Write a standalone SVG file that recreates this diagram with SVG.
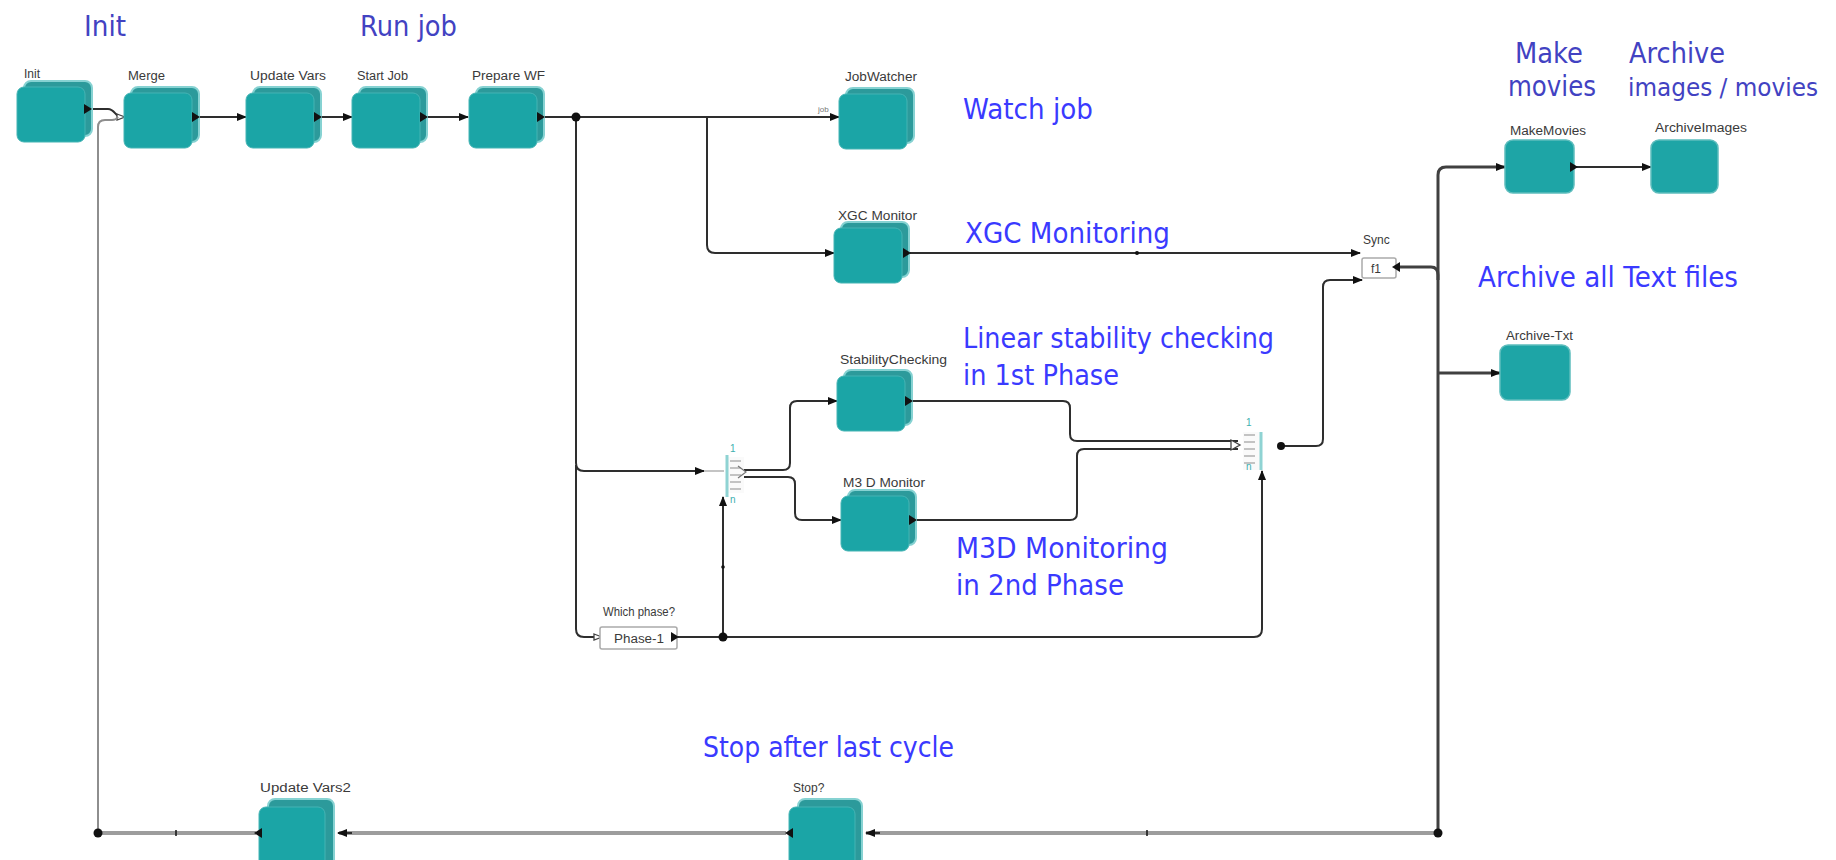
<svg xmlns="http://www.w3.org/2000/svg" width="1836" height="860" viewBox="0 0 1836 860">
<defs>
<style>
  .title{font-family:"DejaVu Sans","Liberation Sans",sans-serif;font-size:28px}
  .dk{fill:#4242c2}
  .br{fill:#3a3aff}
  .lbl{font-family:"Liberation Sans",Arial,sans-serif;font-size:12px;fill:#3a3a3a}
  .tiny{font-family:"Liberation Sans",Arial,sans-serif;font-size:8px;fill:#777}
  .sw{font-family:"Liberation Sans",Arial,sans-serif;font-size:10px;fill:#40b0b0}
  .front{fill:#1ba5a6;stroke:#45b4b4;stroke-width:1}
  .back{fill:#2c9a9b;stroke:#86d2d2;stroke-width:2}
  .flat{fill:#1ea5a6;stroke:#5ebdbd;stroke-width:1.5}
  .wire{fill:none;stroke:#2e2e2e;stroke-width:2;stroke-linejoin:round}
  .thin{fill:none;stroke:#8e8e8e;stroke-width:2}
  .heavy{fill:none;stroke:#9d9d9d;stroke-width:4}
  .dark{fill:none;stroke:#404040;stroke-width:3}
  .port{fill:#111}
  .dash{stroke:#b0b0b0;stroke-width:1.5}
  .tealbar{stroke:#8fd3d3;stroke-width:3}
  .small{fill:#fff;stroke:#aaaaaa;stroke-width:1.5}
</style>
<marker id="ah" viewBox="0 0 10 8" refX="9" refY="4" markerWidth="10" markerHeight="8" markerUnits="userSpaceOnUse" orient="auto">
  <path d="M0,0 L10,4 L0,8 z" fill="#111"/>
</marker>
<marker id="hollow" viewBox="0 0 10 8" refX="9" refY="4" markerWidth="10" markerHeight="8" markerUnits="userSpaceOnUse" orient="auto">
  <path d="M1,1 L9,4 L1,7 z" fill="#fff" stroke="#444" stroke-width="1.3"/>
</marker>
</defs>

<rect x="0" y="0" width="1836" height="860" fill="#ffffff"/>

<!-- annotation titles -->
<g id="titles" class="title">
  <text class="dk" x="84" y="36" textLength="42" lengthAdjust="spacingAndGlyphs">Init</text>
  <text class="dk" x="360" y="36" textLength="97" lengthAdjust="spacingAndGlyphs">Run job</text>
  <text class="br" x="963" y="119" textLength="130" lengthAdjust="spacingAndGlyphs">Watch job</text>
  <text class="br" x="965" y="243" textLength="205" lengthAdjust="spacingAndGlyphs">XGC Monitoring</text>
  <text class="br" x="963" y="348" textLength="311" lengthAdjust="spacingAndGlyphs">Linear stability checking</text>
  <text class="br" x="963" y="385" textLength="156" lengthAdjust="spacingAndGlyphs">in 1st Phase</text>
  <text class="br" x="956" y="558" textLength="212" lengthAdjust="spacingAndGlyphs">M3D Monitoring</text>
  <text class="br" x="956" y="595" textLength="168" lengthAdjust="spacingAndGlyphs">in 2nd Phase</text>
  <text class="dk" x="1515" y="63" textLength="68" lengthAdjust="spacingAndGlyphs">Make</text>
  <text class="dk" x="1508" y="96" textLength="88" lengthAdjust="spacingAndGlyphs">movies</text>
  <text class="dk" x="1629" y="63" textLength="96" lengthAdjust="spacingAndGlyphs">Archive</text>
  <text class="dk" x="1628" y="96" font-size="24" textLength="190" lengthAdjust="spacingAndGlyphs">images / movies</text>
  <text class="br" x="1478" y="287" textLength="260" lengthAdjust="spacingAndGlyphs">Archive all Text files</text>
  <text class="br" x="703" y="757" textLength="251" lengthAdjust="spacingAndGlyphs">Stop after last cycle</text>
</g>

<!-- connectors -->
<g id="connectors">
  <path class="wire" d="M88,109 H108 C115,109 115,117 121,117 H125" marker-end="url(#hollow)"/>
  <path class="thin" d="M98,833 V127 Q98,120 105,120 H112 Q116,120 118,117"/>
  <path class="wire" d="M199,117 H246" marker-end="url(#ah)"/>
  <path class="wire" d="M320,117 H352" marker-end="url(#ah)"/>
  <path class="wire" d="M425,117 H468" marker-end="url(#ah)"/>
  <path class="wire" d="M541,117 H576"/>
  <path class="wire" d="M576,117 H839" marker-end="url(#ah)"/>
  <path class="wire" d="M707,117 V245 Q707,253 715,253 H834" marker-end="url(#ah)"/>
  <path class="wire" d="M909,253 H1360" marker-end="url(#ah)"/>
  <path class="wire" d="M576,117 V463 Q576,471 584,471 H704" marker-end="url(#ah)"/>
  <path d="M704,471 H724" stroke="#c4c4c4" stroke-width="2"/>
  <path class="wire" d="M576,465 V629 Q576,637 584,637 H602" marker-end="url(#hollow)"/>
  <path class="wire" d="M677,637 H1254 Q1262,637 1262,629 V471" marker-end="url(#ah)"/>
  <path class="wire" d="M723,637 V497" marker-end="url(#ah)"/>
  <path class="wire" d="M744,470 H783 Q790,470 790,463 V408 Q790,401 797,401 H837" marker-end="url(#ah)"/>
  <path class="wire" d="M744,477 H788 Q795,477 795,484 V513 Q795,520 802,520 H841" marker-end="url(#ah)"/>
  <path class="wire" d="M911,401 H1063 Q1070,401 1070,408 V434 Q1070,441 1077,441 H1238"/>
  <path class="wire" d="M915,520 H1070 Q1077,520 1077,513 V456 Q1077,449 1084,449 H1238"/>
  <path d="M1231,440 L1240,445 L1231,450 z" fill="#fff" stroke="#444" stroke-width="1.3"/>
  <path class="wire" d="M1281,446 H1316 Q1323,446 1323,439 V287 Q1323,280 1330,280 H1362" marker-end="url(#ah)"/>
  <path class="dark" d="M1398,267 H1431 Q1438,267 1438,275 V833"/>
  <path class="dark" d="M1438,280 V175 Q1438,167 1446,167 H1505" marker-end="url(#ah)"/>
  <path class="dark" d="M1438,373 H1500" marker-end="url(#ah)"/>
  <path class="wire" d="M1576,167 H1651" marker-end="url(#ah)"/>
  <path class="heavy" d="M1438,833 H866"/>
  <path class="wire" d="M880,833 H866" marker-end="url(#ah)"/>
  <path class="heavy" d="M786,833 H339"/>
  <path class="wire" d="M352,833 H338" marker-end="url(#ah)"/>
  <path class="heavy" d="M256,833 H98"/>
  <!-- joints and ticks -->
  <circle cx="576" cy="117" r="4.5" class="port"/>
  <circle cx="723" cy="637" r="4.5" class="port"/>
  <circle cx="98" cy="833" r="4.5" class="port"/>
  <circle cx="1438" cy="833" r="4.5" class="port"/>
  <circle cx="1137" cy="253" r="2" class="port"/>
  <circle cx="723" cy="567" r="1.8" class="port"/>
  <path d="M176,830 V836 M1147,830 V836" stroke="#111" stroke-width="1.5"/>
  <text class="tiny" x="818" y="112">job</text>
</g>

<!-- actor nodes -->
<g id="node-init">
  <rect class="back" x="24" y="81" width="68" height="55" rx="7"/>
  <rect class="front" x="17" y="87" width="68" height="55" rx="7"/>
  <path class="port" d="M84,104 L92,109 L84,114 z"/>
  <text class="lbl" x="24" y="78">Init</text>
</g>
<g id="node-merge">
  <rect class="back" x="131" y="87" width="68" height="55" rx="7"/>
  <rect class="front" x="124" y="93" width="68" height="55" rx="7"/>
  <path class="port" d="M192,112 L200,117 L192,122 z"/>
  <text class="lbl" x="128" y="80" textLength="37" lengthAdjust="spacingAndGlyphs">Merge</text>
</g>
<g id="node-update-vars">
  <rect class="back" x="253" y="87" width="68" height="55" rx="7"/>
  <rect class="front" x="246" y="93" width="68" height="55" rx="7"/>
  <path class="port" d="M314,112 L322,117 L314,122 z"/>
  <text class="lbl" x="250" y="80" textLength="76" lengthAdjust="spacingAndGlyphs">Update Vars</text>
</g>
<g id="node-start-job">
  <rect class="back" x="359" y="87" width="68" height="55" rx="7"/>
  <rect class="front" x="352" y="93" width="68" height="55" rx="7"/>
  <path class="port" d="M420,112 L428,117 L420,122 z"/>
  <text class="lbl" x="357" y="80" textLength="51" lengthAdjust="spacingAndGlyphs">Start Job</text>
</g>
<g id="node-prepare-wf">
  <rect class="back" x="476" y="87" width="68" height="55" rx="7"/>
  <rect class="front" x="469" y="93" width="68" height="55" rx="7"/>
  <path class="port" d="M537,112 L545,117 L537,122 z"/>
  <text class="lbl" x="472" y="80" textLength="73" lengthAdjust="spacingAndGlyphs">Prepare WF</text>
</g>
<g id="node-jobwatcher">
  <rect class="back" x="846" y="88" width="68" height="55" rx="7"/>
  <rect class="front" x="839" y="94" width="68" height="55" rx="7"/>
  <text class="lbl" x="845" y="81" textLength="72" lengthAdjust="spacingAndGlyphs">JobWatcher</text>
</g>
<g id="node-xgc-monitor">
  <rect class="back" x="841" y="222" width="68" height="55" rx="7"/>
  <rect class="front" x="834" y="228" width="68" height="55" rx="7"/>
  <path class="port" d="M903,248 L911,253 L903,258 z"/>
  <text class="lbl" x="838" y="220" textLength="79" lengthAdjust="spacingAndGlyphs">XGC Monitor</text>
</g>
<g id="node-stability">
  <rect class="back" x="844" y="370" width="68" height="55" rx="7"/>
  <rect class="front" x="837" y="376" width="68" height="55" rx="7"/>
  <path class="port" d="M905,396 L913,401 L905,406 z"/>
  <text class="lbl" x="840" y="364" textLength="107" lengthAdjust="spacingAndGlyphs">StabilityChecking</text>
</g>
<g id="node-m3d-monitor">
  <rect class="back" x="848" y="490" width="68" height="55" rx="7"/>
  <rect class="front" x="841" y="496" width="68" height="55" rx="7"/>
  <path class="port" d="M909,515 L917,520 L909,525 z"/>
  <text class="lbl" x="843" y="487" textLength="82" lengthAdjust="spacingAndGlyphs">M3 D Monitor</text>
</g>
<g id="node-makemovies">
  <rect class="flat" x="1505" y="140" width="69" height="53" rx="8"/>
  <path class="port" d="M1570,162 L1578,167 L1570,172 z"/>
  <text class="lbl" x="1510" y="135" textLength="76" lengthAdjust="spacingAndGlyphs">MakeMovies</text>
</g>
<g id="node-archiveimages">
  <rect class="flat" x="1651" y="140" width="67" height="53" rx="8"/>
  <text class="lbl" x="1655" y="132" textLength="92" lengthAdjust="spacingAndGlyphs">ArchiveImages</text>
</g>
<g id="node-archive-txt">
  <rect class="flat" x="1500" y="345" width="70" height="55" rx="8"/>
  <text class="lbl" x="1506" y="340" textLength="67" lengthAdjust="spacingAndGlyphs">Archive-Txt</text>
</g>
<g id="node-update-vars2">
  <rect class="back" x="268" y="799" width="66" height="70" rx="7"/>
  <rect class="front" x="259" y="807" width="66" height="70" rx="7"/>
  <path class="port" d="M262,828 L254,833 L262,838 z"/>
  <text class="lbl" x="260" y="792" textLength="91" lengthAdjust="spacingAndGlyphs">Update Vars2</text>
</g>
<g id="node-stop">
  <rect class="back" x="798" y="799" width="64" height="70" rx="7"/>
  <rect class="front" x="789" y="807" width="66" height="70" rx="7"/>
  <path class="port" d="M793,828 L785,833 L793,838 z"/>
  <text class="lbl" x="793" y="792">Stop?</text>
</g>

<!-- control elements -->
<g id="node-sync">
  <text class="lbl" x="1363" y="244" font-size="11">Sync</text>
  <rect class="small" x="1362" y="258" width="34" height="20" rx="2"/>
  <text class="lbl" x="1371" y="273" font-size="11">f1</text>
  <path class="port" d="M1400,262 L1392,267 L1400,272 z"/>
</g>
<g id="node-which-phase">
  <text class="lbl" x="603" y="616" textLength="72" lengthAdjust="spacingAndGlyphs">Which phase?</text>
  <rect class="small" x="600" y="627" width="77" height="22" rx="2"/>
  <text class="lbl" x="614" y="643" textLength="50" lengthAdjust="spacingAndGlyphs">Phase-1</text>
  <path class="port" d="M671,632 L679,637 L671,642 z"/>
</g>
<g id="node-switch-1">
  <rect x="727" y="457" width="17" height="36" fill="#fafafa"/>
  <line class="tealbar" x1="727" y1="455" x2="727" y2="497"/>
  <line class="dash" x1="730" y1="461" x2="741" y2="461"/>
  <line class="dash" x1="730" y1="468" x2="741" y2="468"/>
  <line class="dash" x1="730" y1="475" x2="741" y2="475"/>
  <line class="dash" x1="730" y1="482" x2="741" y2="482"/>
  <line class="dash" x1="730" y1="489" x2="741" y2="489"/>
  <path d="M738,466 L746,472 L738,478" fill="none" stroke="#777" stroke-width="1.2"/>
  <text class="sw" x="730" y="452">1</text>
  <text class="sw" x="730" y="503">n</text>
</g>
<g id="node-switch-2">
  <rect x="1243" y="432" width="18" height="38" fill="#fafafa"/>
  <line class="tealbar" x1="1261" y1="432" x2="1261" y2="470"/>
  <line class="dash" x1="1244" y1="435" x2="1255" y2="435"/>
  <line class="dash" x1="1244" y1="442" x2="1255" y2="442"/>
  <line class="dash" x1="1244" y1="449" x2="1255" y2="449"/>
  <line class="dash" x1="1244" y1="456" x2="1255" y2="456"/>
  <line class="dash" x1="1244" y1="463" x2="1255" y2="463"/>
  <circle cx="1281" cy="446" r="4" class="port"/>
  <text class="sw" x="1246" y="426">1</text>
  <text class="sw" x="1246" y="470">n</text>
</g>
</svg>
